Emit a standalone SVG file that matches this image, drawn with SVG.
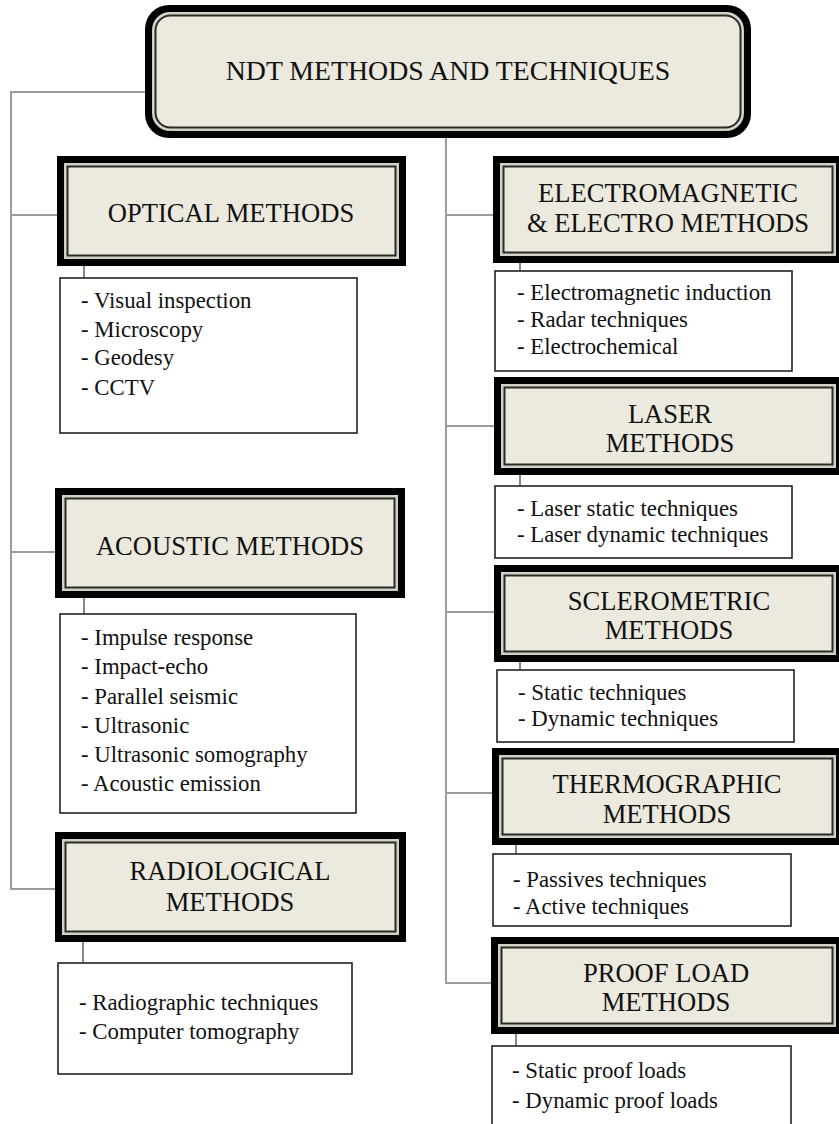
<svg xmlns="http://www.w3.org/2000/svg" width="839" height="1124" viewBox="0 0 839 1124">
<style>
.bo{fill:#000}
.bm{fill:#d3d0c6}
.bi{fill:#ECE9DF;stroke:#2a2a2a;stroke-width:2}
.t{font-size:26.6px;text-anchor:middle;fill:#111}
.tt{font-size:27.8px;text-anchor:middle;fill:#111}
.lb{fill:#fff;stroke:#222;stroke-width:1.6}
.it{font-size:22.8px;fill:#111}
.c{stroke:#9c9c9c;stroke-width:2;fill:none}
.cs{stroke:#888;stroke-width:2;fill:none}
</style>
<rect width="839" height="1124" fill="#fff"/>
<g id="connectors">
<path class="c" d="M145,92 H11 V889 H56"/>
<path class="c" d="M11,215 H57"/>
<path class="c" d="M11,552 H56"/>
<path class="c" d="M446,138 V983 H491"/>
<path class="c" d="M446,215 H493"/>
<path class="c" d="M446,426 H494"/>
<path class="c" d="M446,612 H494"/>
<path class="c" d="M446,793 H492"/>
<path class="cs" d="M84,266 V278"/>
<path class="cs" d="M84,598 V614"/>
<path class="cs" d="M83,942 V963"/>
<path class="cs" d="M520,263 V271"/>
<path class="cs" d="M520,475 V486"/>
<path class="cs" d="M520,662 V670"/>
<path class="cs" d="M516,845 V854"/>
<path class="cs" d="M516,1034 V1046"/>
</g>
<g font-family="'Liberation Serif', 'Times New Roman', 'DejaVu Serif', serif">
<g id="root">
<rect class="bo" x="145" y="5" width="606" height="133" rx="24"/>
<rect class="bm" x="152" y="12" width="592" height="119" rx="18"/>
<rect class="bi" x="155.5" y="15.5" width="585" height="112" rx="15"/>
<text class="tt" x="448" y="80">NDT METHODS AND TECHNIQUES</text>
</g>
<g id="optical">
<rect class="bo" x="57" y="156" width="349" height="110"/>
<rect class="bm" x="64" y="163" width="335" height="96"/>
<rect class="bi" x="67.5" y="166.5" width="328" height="89"/>
<text class="t" x="231" y="222">OPTICAL METHODS</text>
</g>
<g id="optical-list">
<rect class="lb" x="60" y="278" width="297" height="155"/>
<text class="it" x="81" y="308">- Visual inspection</text>
<text class="it" x="81" y="337">- Microscopy</text>
<text class="it" x="81" y="365">- Geodesy</text>
<text class="it" x="81" y="395">- CCTV</text>
</g>
<g id="acoustic">
<rect class="bo" x="55" y="488" width="350" height="110"/>
<rect class="bm" x="62" y="495" width="336" height="96"/>
<rect class="bi" x="65.5" y="498.5" width="329" height="89"/>
<text class="t" x="230" y="555">ACOUSTIC METHODS</text>
</g>
<g id="acoustic-list">
<rect class="lb" x="60" y="614" width="296" height="199"/>
<text class="it" x="81" y="645">- Impulse response</text>
<text class="it" x="81" y="674">- Impact-echo</text>
<text class="it" x="81" y="703.5">- Parallel seismic</text>
<text class="it" x="81" y="733">- Ultrasonic</text>
<text class="it" x="81" y="762">- Ultrasonic somography</text>
<text class="it" x="81" y="791">- Acoustic emission</text>
</g>
<g id="radiological">
<rect class="bo" x="55" y="832" width="351" height="110"/>
<rect class="bm" x="62" y="839" width="337" height="96"/>
<rect class="bi" x="65.5" y="842.5" width="330" height="89"/>
<text class="t" x="230" y="880">RADIOLOGICAL</text>
<text class="t" x="230" y="911">METHODS</text>
</g>
<g id="radiological-list">
<rect class="lb" x="58" y="963" width="294" height="111"/>
<text class="it" x="79" y="1010">- Radiographic techniques</text>
<text class="it" x="79" y="1039">- Computer tomography</text>
</g>
<g id="electro">
<rect class="bo" x="493" y="156" width="350" height="107"/>
<rect class="bm" x="500" y="163" width="336" height="93"/>
<rect class="bi" x="503.5" y="166.5" width="329" height="86"/>
<text class="t" x="668" y="202">ELECTROMAGNETIC</text>
<text class="t" x="668" y="232">&amp; ELECTRO METHODS</text>
</g>
<g id="electro-list">
<rect class="lb" x="495" y="271" width="297" height="100"/>
<text class="it" x="517" y="300">- Electromagnetic induction</text>
<text class="it" x="517" y="327">- Radar techniques</text>
<text class="it" x="517" y="354">- Electrochemical</text>
</g>
<g id="laser">
<rect class="bo" x="494" y="377" width="349" height="98"/>
<rect class="bm" x="501" y="384" width="335" height="84"/>
<rect class="bi" x="504.5" y="387.5" width="328" height="77"/>
<text class="t" x="670" y="423">LASER</text>
<text class="t" x="670" y="452">METHODS</text>
</g>
<g id="laser-list">
<rect class="lb" x="495" y="486" width="297" height="72"/>
<text class="it" x="517" y="516">- Laser static techniques</text>
<text class="it" x="517" y="542">- Laser dynamic techniques</text>
</g>
<g id="sclerometric">
<rect class="bo" x="494" y="565" width="349" height="97"/>
<rect class="bm" x="501" y="572" width="335" height="83"/>
<rect class="bi" x="504.5" y="575.5" width="328" height="76"/>
<text class="t" x="669" y="610">SCLEROMETRIC</text>
<text class="t" x="669" y="639">METHODS</text>
</g>
<g id="sclerometric-list">
<rect class="lb" x="497" y="670" width="297" height="72"/>
<text class="it" x="518" y="700">- Static techniques</text>
<text class="it" x="518" y="726">- Dynamic techniques</text>
</g>
<g id="thermographic">
<rect class="bo" x="492" y="748" width="351" height="97"/>
<rect class="bm" x="499" y="755" width="337" height="83"/>
<rect class="bi" x="502.5" y="758.5" width="330" height="76"/>
<text class="t" x="667" y="793">THERMOGRAPHIC</text>
<text class="t" x="667" y="823">METHODS</text>
</g>
<g id="thermographic-list">
<rect class="lb" x="493" y="854" width="298" height="72"/>
<text class="it" x="513" y="887">- Passives techniques</text>
<text class="it" x="513" y="914">- Active techniques</text>
</g>
<g id="proofload">
<rect class="bo" x="491" y="937" width="352" height="97"/>
<rect class="bm" x="498" y="944" width="338" height="83"/>
<rect class="bi" x="501.5" y="947.5" width="331" height="76"/>
<text class="t" x="666" y="982">PROOF LOAD</text>
<text class="t" x="666" y="1011">METHODS</text>
</g>
<g id="proofload-list">
<rect class="lb" x="492" y="1046" width="299" height="90"/>
<text class="it" x="512" y="1078">- Static proof loads</text>
<text class="it" x="512" y="1108">- Dynamic proof loads</text>
</g>
</g>
</svg>
